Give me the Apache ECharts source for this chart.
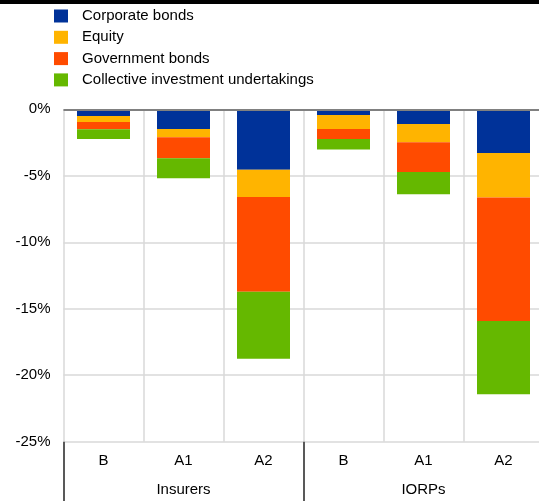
<!DOCTYPE html>
<html>
<head>
<meta charset="utf-8">
<script src="https://cdn.jsdelivr.net/npm/echarts@6/dist/echarts.min.js"></script>
<style>
html,body{margin:0;padding:0;background:#fff;}
#c{width:539px;height:501px;}
</style>
</head>
<body>
<div id="c"></div>
<script>
const categories = ['B', 'A1', 'A2', 'B', 'A1', 'A2'];
const groups = ['Insurers', 'IORPs'];
const corporateBonds = [-0.50, -1.48, -4.55, -0.43, -1.10, -3.28];
const equity = [-0.45, -0.63, -2.05, -1.05, -1.38, -3.35];
const governmentBonds = [-0.55, -1.58, -7.13, -0.75, -2.23, -9.30];
const collectiveInvestment = [-0.73, -1.50, -5.03, -0.80, -1.68, -5.50];
const seriesNames = ['Corporate bonds', 'Equity', 'Government bonds', 'Collective investment undertakings'];
const colors = ['#003299', '#ffb400', '#ff4b00', '#65b800'];

const chart = echarts.init(document.getElementById('c'), null, {renderer: 'canvas'});
const font = 'Liberation Sans, Arial, sans-serif';
const values = [corporateBonds, equity, governmentBonds, collectiveInvestment];

const series = values.map((d, i) => ({
  name: seriesNames[i],
  type: 'bar',
  stack: 'total',
  xAxisIndex: 0,
  barWidth: 53,
  data: d,
  itemStyle: {color: colors[i]},
  animation: false
}));
series.push({
  type: 'line',
  data: [],
  xAxisIndex: 0,
  markLine: {
    silent: true,
    symbol: 'none',
    animation: false,
    label: {show: false},
    lineStyle: {color: '#808080', width: 2, type: 'solid'},
    data: [{yAxis: 0}]
  }
});

chart.setOption({
  animation: false,
  color: colors,
  legend: {
    orient: 'vertical',
    left: 49,
    top: 3.5,
    itemWidth: 14,
    itemHeight: 13,
    itemGap: 6.3,
    icon: 'rect',
    data: seriesNames,
    textStyle: {fontFamily: font, fontSize: 15, lineHeight: 15, color: '#000', padding: [0, 0, 0, 9]}
  },
  grid: {left: 63.5, width: 480, top: 109.3, bottom: 59.3, outerBoundsMode: 'none', containLabel: false},
  xAxis: [
    {
      type: 'category',
      data: categories,
      position: 'bottom',
      axisLine: {show: false},
      axisTick: {show: false},
      axisLabel: {fontFamily: font, fontSize: 15, color: '#000', margin: 12, interval: 0},
      splitLine: {show: true, interval: 0, lineStyle: {color: '#d9d9d9', width: 1.5}}
    },
    {
      type: 'category',
      data: groups,
      position: 'bottom',
      axisLine: {show: false},
      axisTick: {show: true, length: 60, lineStyle: {color: '#595959', width: 2}},
      axisLabel: {fontFamily: font, fontSize: 15, color: '#000', margin: 41, interval: 0},
      splitLine: {show: false}
    }
  ],
  yAxis: {
    type: 'value',
    min: -25,
    max: 0,
    interval: 5,
    axisLine: {show: false},
    axisTick: {show: false},
    axisLabel: {fontFamily: font, fontSize: 15, color: '#000', margin: 13, formatter: '{value}%'},
    splitLine: {show: true, lineStyle: {color: '#d9d9d9', width: 1.5}}
  },
  graphic: [
    {type: 'rect', left: 0, top: 0, shape: {x: 0, y: 0, width: 539, height: 4}, style: {fill: '#000'}}
  ],
  series: series
});
</script>
</body>
</html>
